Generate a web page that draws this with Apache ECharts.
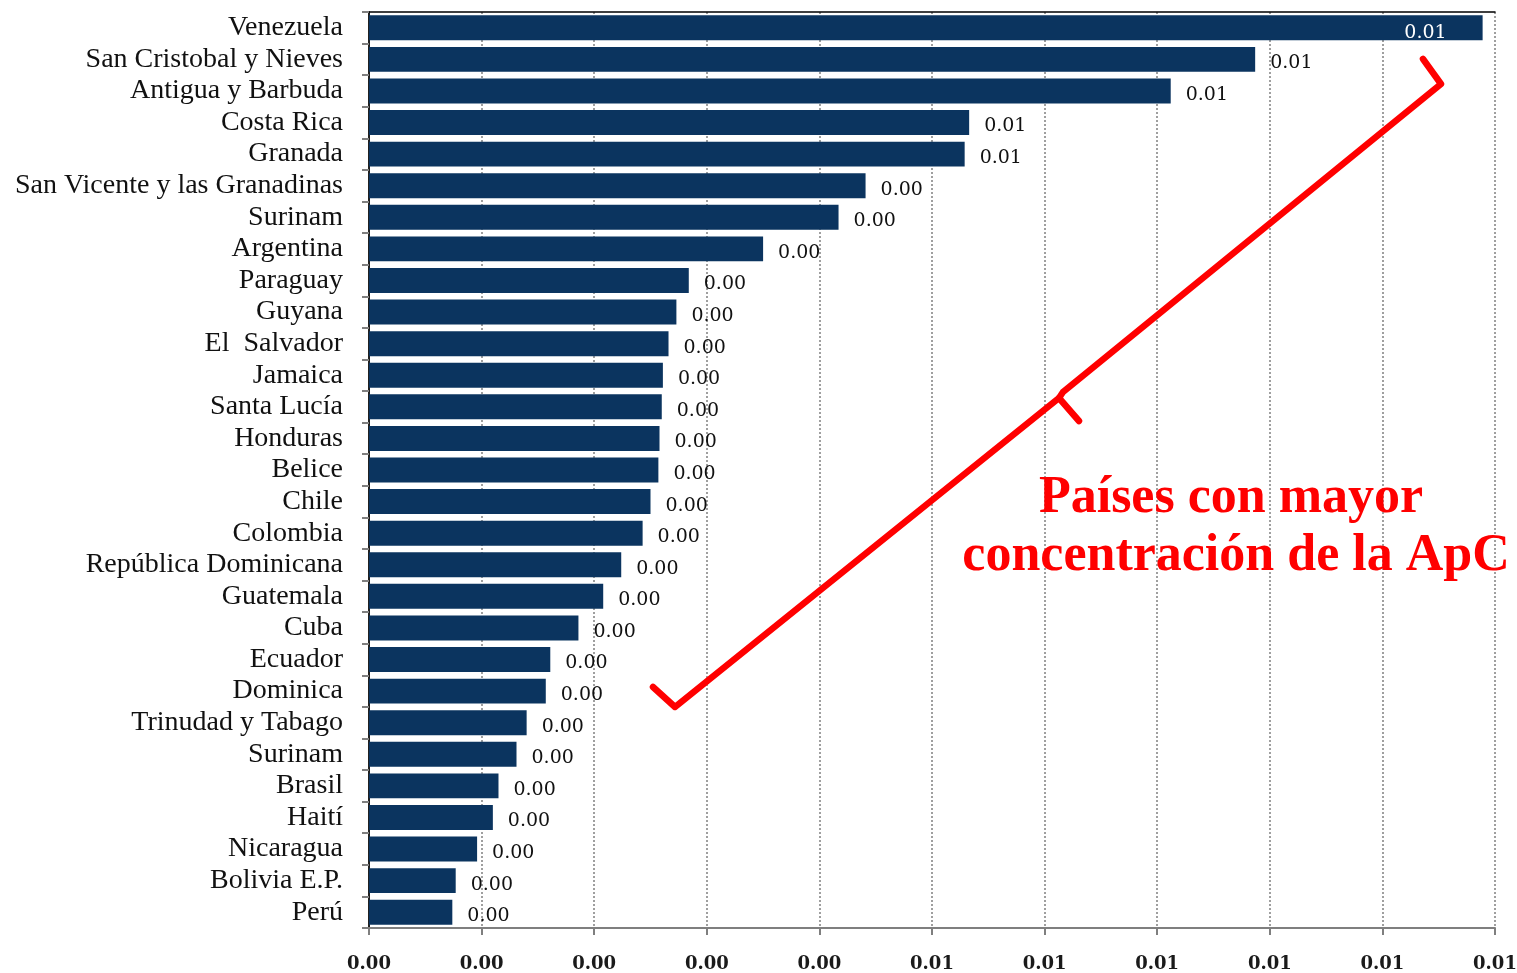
<!DOCTYPE html>
<html>
<head>
<meta charset="utf-8">
<script src="https://cdn.jsdelivr.net/npm/echarts@6/dist/echarts.min.js"></script>
<style>
  html, body { margin: 0; padding: 0; background: #fff; }
  #chart { width: 1517px; height: 973px; }
</style>
</head>
<body>
<div id="chart"></div>
<script>
const paises = [
  'Venezuela', 'San Cristobal y Nieves', 'Antigua y Barbuda', 'Costa Rica', 'Granada',
  'San Vicente y las Granadinas', 'Surinam', 'Argentina', 'Paraguay', 'Guyana',
  'El  Salvador', 'Jamaica', 'Santa Lucía', 'Honduras', 'Belice', 'Chile', 'Colombia',
  'República Dominicana', 'Guatemala', 'Cuba', 'Ecuador', 'Dominica', 'Trinudad y Tabago',
  'Surinam', 'Brasil', 'Haití', 'Nicaragua', 'Bolivia E.P.', 'Perú'
];
const valores = [
  0.00989, 0.00787, 0.00712, 0.00533, 0.00529,
  0.00441, 0.00417, 0.00350, 0.00284, 0.00273,
  0.00266, 0.00261, 0.00260, 0.00258, 0.00257, 0.00250, 0.00243,
  0.00224, 0.00208, 0.00186, 0.00161, 0.00157, 0.00140,
  0.00131, 0.00115, 0.00110, 0.00096, 0.00077, 0.00074
];
const ejeMin = 0;
const ejeMax = 0.01;
const ejeIntervalo = 0.001;

const fmt = v => (Math.round(v * 100 + 1e-9) / 100).toFixed(2);
const serif = '"Liberation Serif", "DejaVu Serif", serif';
const serifAncha = '"DejaVu Serif", "Liberation Serif", serif';

const chart = echarts.init(document.getElementById('chart'));

const datos = valores.map((v, i) => {
  if (i === 0) {
    return {
      value: v,
      label: { position: 'insideRight', distance: 36, offset: [0, 5], color: '#fff' }
    };
  }
  return v;
});

// ejes "marco" superior y derecho: solo la línea negra
const marco = {
  show: true,
  axisLine: { show: true, lineStyle: { color: '#000', width: 1.5 } },
  axisTick: { show: false },
  axisLabel: { show: false },
  splitLine: { show: false }
};

chart.setOption({
  animation: false,
  grid: {
    left: 369, right: 22, top: 12, bottom: 45,
    outerBoundsMode: 'none', containLabel: false
  },
  xAxis: [{
    type: 'value',
    min: ejeMin, max: ejeMax, interval: ejeIntervalo,
    axisLine: { show: true, lineStyle: { color: '#7f7f7f', width: 2 } },
    axisTick: { show: true, length: 7, lineStyle: { color: '#7f7f7f', width: 2 } },
    axisLabel: {
      formatter: fmt, margin: 27,
      fontFamily: serifAncha, fontSize: 18, fontWeight: 'bold', color: '#1a1a1a'
    },
    splitLine: { show: true, lineStyle: { color: '#808080', type: [2, 2], width: 1.5 } }
  }, Object.assign({ type: 'value', position: 'top', min: ejeMin, max: ejeMax }, marco)],
  yAxis: [{
    type: 'category',
    data: paises,
    inverse: true,
    axisLine: { show: true, lineStyle: { color: '#7f7f7f', width: 2 } },
    axisTick: { show: true, length: 7, lineStyle: { color: '#7f7f7f', width: 2 } },
    axisLabel: { interval: 0, fontFamily: serif, fontSize: 28, color: '#111', margin: 26 }
  }, Object.assign({ type: 'category', position: 'right', data: paises, inverse: true }, marco)],
  series: [{
    type: 'bar',
    data: datos,
    barCategoryGap: '21%',
    itemStyle: { color: '#0b345f' },
    label: {
      show: true,
      position: 'right',
      distance: 15,
      offset: [0, 4],
      formatter: p => fmt(p.value),
      fontFamily: serifAncha, fontSize: 19, color: '#111'
    }
  }],
  graphic: [
    {
      type: 'polyline', z: 100,
      shape: { points: [[1423, 59], [1441, 84], [1063, 392], [1059, 398], [1079, 421]] },
      style: { stroke: '#ff0000', lineWidth: 6.5, fill: null, lineJoin: 'round', lineCap: 'round' }
    },
    {
      type: 'polyline', z: 100,
      shape: { points: [[1059, 398], [675, 707], [653, 687]] },
      style: { stroke: '#ff0000', lineWidth: 6.5, fill: null, lineJoin: 'round', lineCap: 'round' }
    },
    {
      type: 'text', z: 100, x: 1231, y: 499,
      style: {
        text: 'Países con mayor', fill: '#ff0000',
        font: 'bold 52px "Liberation Serif", serif', textAlign: 'center', textVerticalAlign: 'middle'
      }
    },
    {
      type: 'text', z: 100, x: 1236, y: 557,
      style: {
        text: 'concentración de la ApC', fill: '#ff0000',
        font: 'bold 52px "Liberation Serif", serif', textAlign: 'center', textVerticalAlign: 'middle'
      }
    }
  ]
});
</script>
</body>
</html>
